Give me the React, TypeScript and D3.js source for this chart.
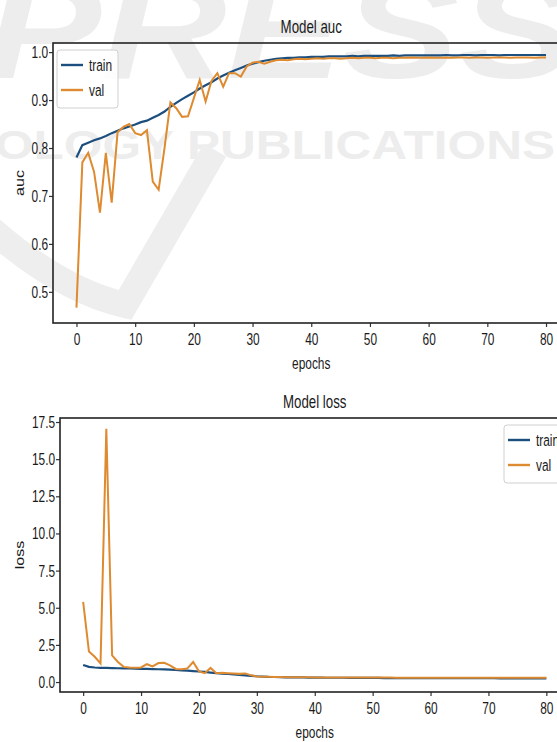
import React, { useEffect, useRef } from "react";
import * as d3 from "d3";

// epochs 0..80
const epochs = [
  0, 1, 2, 3, 4, 5, 6, 7, 8, 9, 10, 11, 12, 13, 14, 15, 16, 17, 18, 19, 20,
  21, 22, 23, 24, 25, 26, 27, 28, 29, 30, 31, 32, 33, 34, 35, 36, 37, 38, 39, 40,
  41, 42, 43, 44, 45, 46, 47, 48, 49, 50, 51, 52, 53, 54, 55, 56, 57, 58, 59, 60,
  61, 62, 63, 64, 65, 66, 67, 68, 69, 70, 71, 72, 73, 74, 75, 76, 77, 78, 79, 80,
];

const trainAuc = [
  0.780, 0.806, 0.811, 0.816, 0.820, 0.825, 0.831, 0.836, 0.841, 0.845,
  0.849, 0.854, 0.857, 0.863, 0.869, 0.876, 0.886, 0.894, 0.902, 0.909,
  0.916, 0.924, 0.931, 0.937, 0.945, 0.951, 0.957, 0.962, 0.967, 0.972,
  0.976, 0.979, 0.982, 0.984, 0.986, 0.987, 0.988, 0.988, 0.989, 0.989,
  0.990, 0.990, 0.990, 0.991, 0.991, 0.991, 0.991, 0.992, 0.991, 0.992,
  0.992, 0.992, 0.992, 0.992, 0.993, 0.992, 0.993, 0.993, 0.993, 0.993,
  0.993, 0.993, 0.993, 0.994, 0.993, 0.993, 0.994, 0.994, 0.993, 0.994,
  0.994, 0.994, 0.993, 0.994, 0.994, 0.994, 0.994, 0.994, 0.994, 0.994, 0.994,
];

const valAuc = [
  0.467, 0.770, 0.790, 0.750, 0.665, 0.790, 0.686, 0.833, 0.844, 0.850,
  0.831, 0.827, 0.837, 0.730, 0.713, 0.800, 0.895, 0.883, 0.865, 0.866,
  0.904, 0.942, 0.897, 0.940, 0.956, 0.928, 0.956, 0.956, 0.949, 0.970,
  0.978, 0.980, 0.976, 0.980, 0.983, 0.984, 0.983, 0.985, 0.986, 0.985,
  0.986, 0.987, 0.986, 0.987, 0.987, 0.986, 0.987, 0.988, 0.987, 0.988,
  0.988, 0.987, 0.988, 0.988, 0.987, 0.988, 0.988, 0.989, 0.988, 0.988,
  0.989, 0.988, 0.988, 0.989, 0.988, 0.989, 0.989, 0.988, 0.989, 0.989,
  0.988, 0.989, 0.989, 0.989, 0.988, 0.989, 0.989, 0.989, 0.988, 0.989, 0.989,
];

const trainLoss = [
  1.15, 1.02, 0.98, 0.96, 0.95, 0.94, 0.93, 0.92, 0.91, 0.90,
  0.89, 0.88, 0.87, 0.86, 0.85, 0.83, 0.81, 0.79, 0.77, 0.74,
  0.71, 0.68, 0.64, 0.60, 0.57, 0.54, 0.51, 0.48, 0.45, 0.42,
  0.39, 0.37, 0.35, 0.34, 0.33, 0.32, 0.32, 0.31, 0.31, 0.30,
  0.30, 0.30, 0.29, 0.29, 0.29, 0.29, 0.28, 0.28, 0.28, 0.28,
  0.28, 0.28, 0.27, 0.27, 0.27, 0.27, 0.27, 0.27, 0.27, 0.27,
  0.26, 0.26, 0.26, 0.26, 0.26, 0.26, 0.26, 0.26, 0.26, 0.26,
  0.26, 0.26, 0.25, 0.25, 0.25, 0.25, 0.25, 0.25, 0.25, 0.25, 0.25,
];

const valLoss = [
  5.40, 2.05, 1.70, 1.25, 17.05, 1.80, 1.35, 1.02, 0.98, 0.97,
  0.98, 1.20, 1.05, 1.28, 1.30, 1.12, 0.88, 0.86, 0.92, 1.35,
  0.72, 0.60, 0.95, 0.60, 0.62, 0.60, 0.58, 0.55, 0.58, 0.45,
  0.38, 0.36, 0.35, 0.34, 0.34, 0.33, 0.33, 0.32, 0.32, 0.32,
  0.31, 0.31, 0.31, 0.31, 0.30, 0.30, 0.30, 0.30, 0.30, 0.30,
  0.30, 0.30, 0.30, 0.30, 0.29, 0.29, 0.29, 0.29, 0.29, 0.29,
  0.29, 0.29, 0.29, 0.29, 0.29, 0.29, 0.29, 0.29, 0.29, 0.29,
  0.29, 0.29, 0.29, 0.29, 0.29, 0.29, 0.29, 0.29, 0.29, 0.29, 0.29,
];

const epochTicks = [0, 10, 20, 30, 40, 50, 60, 70, 80];
const aucTicks = [0.5, 0.6, 0.7, 0.8, 0.9, 1.0];
const lossTicks = [0, 2.5, 5, 7.5, 10, 12.5, 15, 17.5];
const seriesNames = ["train", "val"];

const BLUE = "#1d4f7e";
const ORANGE = "#de8a30";
const FONT = "'Liberation Sans', Arial, sans-serif";
const SQ = "scale(0.7,1)";

function drawPanel(svg, o) {
  const g = svg.append("g");
  const x = d3.scaleLinear().domain([-4, 84]).range([o.left, o.right]);
  const y = d3.scaleLinear().domain(o.yDomain).range([o.bottom, o.top]);

  const xAxis = g.append("g")
    .attr("transform", `translate(0, ${o.bottom})`)
    .call(d3.axisBottom(x).tickValues(epochTicks).tickSize(4).tickPadding(6).tickFormat(d3.format("d")));
  const yAxis = g.append("g")
    .attr("transform", `translate(${o.left}, 0)`)
    .call(d3.axisLeft(y).tickValues(o.yTicks).tickSize(4).tickPadding(3).tickFormat(d3.format(".1f")));

  [xAxis, yAxis].forEach(a => {
    a.select(".domain").remove();
    a.selectAll("line").attr("stroke", "#333").attr("stroke-width", 1.2);
    a.selectAll("text")
      .attr("fill", "#1a1a1a")
      .style("font-family", FONT)
      .style("font-size", "17px")
      .attr("transform", SQ);
  });

  const line = d3.line().x((d, i) => x(epochs[i])).y(d => y(d));
  g.append("path").datum(o.train).attr("d", line)
    .attr("fill", "none").attr("stroke", BLUE).attr("stroke-width", 2.2);
  g.append("path").datum(o.val).attr("d", line)
    .attr("fill", "none").attr("stroke", ORANGE).attr("stroke-width", 2);

  // spines
  g.append("rect")
    .attr("x", o.left).attr("y", o.top)
    .attr("width", o.right - o.left).attr("height", o.bottom - o.top)
    .attr("fill", "none").attr("stroke", "#222").attr("stroke-width", 1.6);

  const cx = (o.left + o.right) / 2;
  g.append("text")
    .attr("transform", `translate(${cx}, ${o.top - 10}) ${SQ}`)
    .attr("text-anchor", "middle")
    .style("font-family", FONT).style("font-size", "19px").attr("fill", "#1a1a1a")
    .text(o.title);
  g.append("text")
    .attr("transform", `translate(${cx}, ${o.bottom + 46}) ${SQ}`)
    .attr("text-anchor", "middle")
    .style("font-family", FONT).style("font-size", "17px").attr("fill", "#1a1a1a")
    .text("epochs");
  g.append("text")
    .attr("transform", `translate(24, ${(o.top + o.bottom) / 2}) rotate(-90) scale(1,0.75)`)
    .attr("text-anchor", "middle")
    .style("font-family", FONT).style("font-size", "16px").attr("fill", "#1a1a1a")
    .text(o.ylabel);

  // legend
  const lg = g.append("g").attr("transform", `translate(${o.legend[0]}, ${o.legend[1]})`);
  lg.append("rect")
    .attr("x", 0).attr("y", 0).attr("width", o.legend[2]).attr("height", 58).attr("rx", 3)
    .attr("fill", "white").attr("fill-opacity", 0.85)
    .attr("stroke", "#d0d0d0").attr("stroke-width", 1);
  seriesNames.forEach((name, i) => {
    const yy = 15 + i * 25;
    lg.append("line")
      .attr("x1", 4).attr("x2", 26).attr("y1", yy).attr("y2", yy)
      .attr("stroke", i === 0 ? BLUE : ORANGE).attr("stroke-width", 2.4);
    lg.append("text")
      .attr("transform", `translate(32, ${yy + 6}) ${SQ}`)
      .style("font-family", FONT).style("font-size", "17px").attr("fill", "#1a1a1a")
      .text(name);
  });
}

export default function App() {
  const ref = useRef(null);

  useEffect(() => {
    const svg = d3.select(ref.current);
    svg.selectAll("*").remove();

    // faint publisher watermark behind the plots
    const wm = svg.append("g").attr("fill", "#ededed");
    wm.append("text")
      .attr("x", -15).attr("y", 78)
      .attr("textLength", 590).attr("lengthAdjust", "spacingAndGlyphs")
      .style("font-family", FONT).style("font-size", "140px")
      .style("font-weight", "bold").style("font-style", "italic")
      .text("PRESS");
    wm.append("text")
      .attr("x", -5).attr("y", 159)
      .attr("textLength", 560).attr("lengthAdjust", "spacingAndGlyphs")
      .style("font-family", FONT).style("font-size", "40px")
      .style("font-weight", "bold")
      .text("OLOGY PUBLICATIONS");
    svg.append("path")
      .attr("d", "M -10 228 Q 60 290 125 305 L 215 150")
      .attr("fill", "none").attr("stroke", "#eeeeee").attr("stroke-width", 26);

    drawPanel(svg, {
      left: 53, right: 569.5, top: 43, bottom: 323,
      yDomain: [0.435, 1.019], yTicks: aucTicks,
      train: trainAuc, val: valAuc,
      title: "Model auc", ylabel: "auc",
      legend: [57, 50, 61],
    });
    drawPanel(svg, {
      left: 60, right: 569.5, top: 418, bottom: 692,
      yDomain: [-0.67, 17.77], yTicks: lossTicks,
      train: trainLoss, val: valLoss,
      title: "Model loss", ylabel: "loss",
      legend: [504, 425, 70],
    });
  }, []);

  return (
    <svg
      ref={ref}
      width={557}
      height={742}
      style={{ position: "absolute", left: 0, top: 0, background: "white" }}
    />
  );
}
